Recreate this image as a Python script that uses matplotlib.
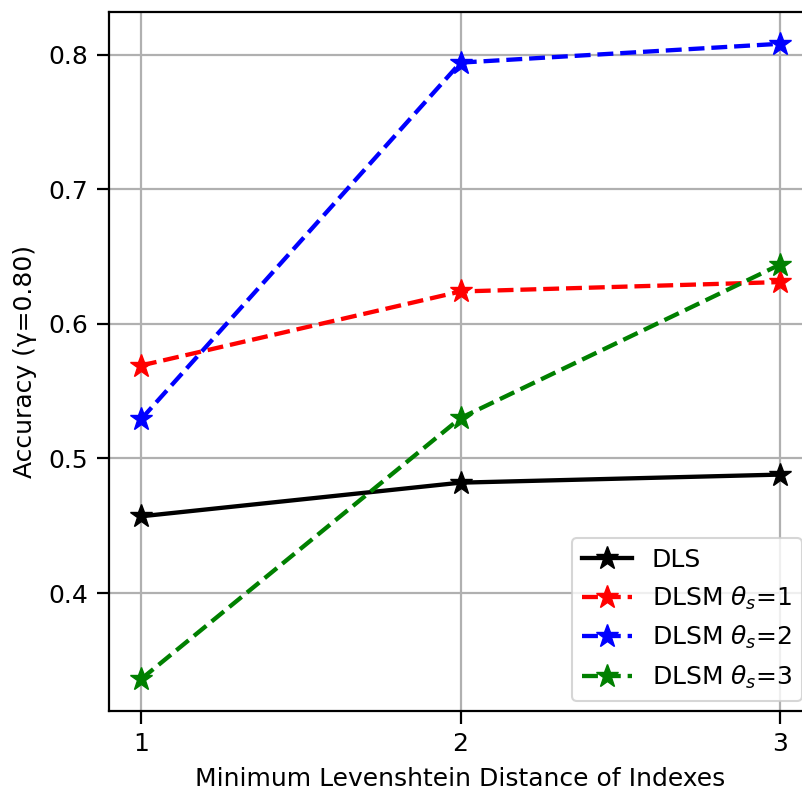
import matplotlib
matplotlib.use("Agg")
import matplotlib.pyplot as plt

distances = [1, 2, 3]
dls = [0.457, 0.482, 0.488]
dlsm_1 = [0.569, 0.624, 0.631]
dlsm_2 = [0.529, 0.794, 0.808]
dlsm_3 = [0.336, 0.530, 0.644]

plt.rcParams['font.size'] = 18

fig = plt.figure(figsize=(8.03, 7.9), dpi=100)
# axes run past the right edge of the figure, as in the reference
ax = fig.add_axes([109 / 803, 79 / 790, (812 - 109) / 803, (711 - 12) / 790])

lw = 3.1
ms = 17
ax.plot(distances, dls, color='black', linestyle='-', marker='*', lw=lw, ms=ms, label='DLS')
ax.plot(distances, dlsm_1, color='red', linestyle='--', marker='*', lw=lw, ms=ms, label=r'DLSM $\theta_s$=1')
ax.plot(distances, dlsm_2, color='blue', linestyle='--', marker='*', lw=lw, ms=ms, label=r'DLSM $\theta_s$=2')
ax.plot(distances, dlsm_3, color='green', linestyle='--', marker='*', lw=lw, ms=ms, label=r'DLSM $\theta_s$=3')

ax.set_xticks(distances)
ax.set_yticks([0.4, 0.5, 0.6, 0.7, 0.8])
ax.set_xlim(0.9, 3.1)
ax.grid(True, color='#b0b0b0', lw=1.6)
ax.tick_params(width=1.6, length=9, pad=6)
for s in ax.spines.values():
    s.set_linewidth(1.6)

ax.set_xlabel('Minimum Levenshtein Distance of Indexes', labelpad=8)
ax.set_ylabel('Accuracy (γ=0.80)', labelpad=8)
leg = ax.legend(loc='lower right', borderaxespad=0.4)
leg.get_frame().set_linewidth(1.5)

fig.savefig('out.png', dpi=100)
